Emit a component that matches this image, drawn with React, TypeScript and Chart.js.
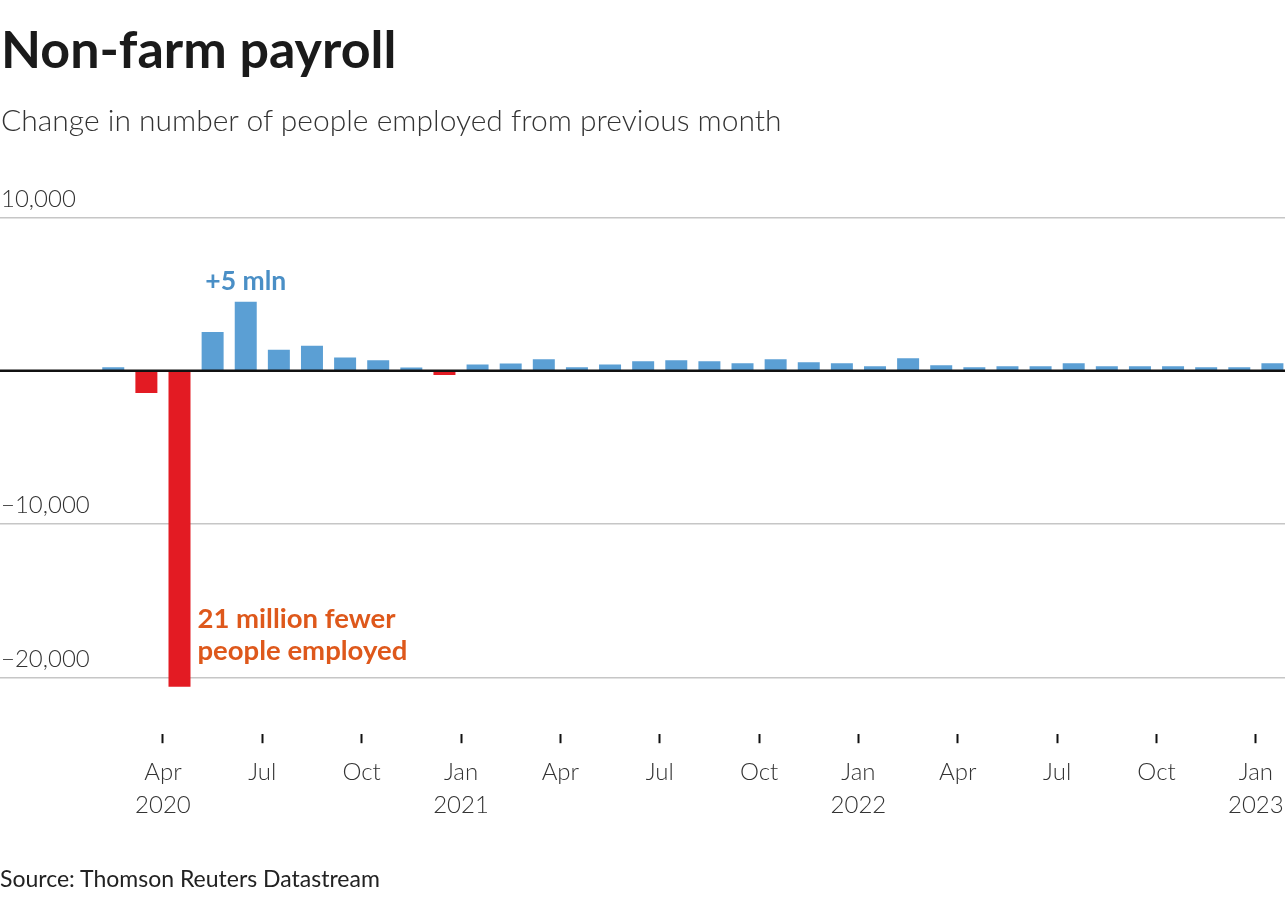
import React, { useEffect, useRef } from 'react';
import { Chart, registerables } from 'chart.js';

Chart.register(...registerables);

// ---- Data (thousands of jobs, change from previous month) ----
const months = [
  '2020-02', '2020-03', '2020-04', '2020-05', '2020-06', '2020-07', '2020-08', '2020-09',
  '2020-10', '2020-11', '2020-12', '2021-01', '2021-02', '2021-03', '2021-04', '2021-05',
  '2021-06', '2021-07', '2021-08', '2021-09', '2021-10', '2021-11', '2021-12', '2022-01',
  '2022-02', '2022-03', '2022-04', '2022-05', '2022-06', '2022-07', '2022-08', '2022-09',
  '2022-10', '2022-11', '2022-12', '2023-01',
];
const payrollChange = [
  220, -1450, -20600, 2520, 4500, 1370, 1630, 860,
  680, 210, -280, 400, 470, 750, 230, 400,
  620, 680, 620, 490, 750, 550, 490, 290,
  810, 360, 230, 290, 290, 490, 290, 290,
  290, 230, 230, 490,
];

const tickMonths = [
  '2020-04', '2020-07', '2020-10', '2021-01', '2021-04', '2021-07',
  '2021-10', '2022-01', '2022-04', '2022-07', '2022-10', '2023-01',
];
const tickLabels: (string | string[])[] = [
  ['Apr', '2020'], 'Jul', 'Oct', ['Jan', '2021'], 'Apr', 'Jul',
  'Oct', ['Jan', '2022'], 'Apr', 'Jul', 'Oct', ['Jan', '2023'],
];
const yTicks = [-20000, -10000, 0, 10000];
const yTickLabels = ['\u221220,000', '\u221210,000', '', '10,000'];

const peakMonth = '2020-06';
const peakLabel = '+5 mln';
const troughMonth = '2020-04';
const troughLines = ['21 million fewer', 'people employed'];

// ---- Styles ----
const BLUE = '#5b9fd4';
const RED = '#e31b23';
const ANNOT_BLUE = '#4a8fc6';
const ANNOT_ORANGE = '#de581b';
const FONT = 'Lato, "Noto Sans", sans-serif';

const monthIndex = (m: string) => {
  const [y, mo] = m.split('-').map(Number);
  return (y - 2020) * 12 + (mo - 1);
};

const annotate = {
  id: 'annotate',
  afterDatasetsDraw(chart: any) {
    const { ctx, chartArea, scales } = chart;
    const y0 = scales.y.getPixelForValue(0);
    ctx.save();
    ctx.strokeStyle = '#111';
    ctx.lineWidth = 2.5;
    ctx.beginPath();
    ctx.moveTo(chartArea.left, y0);
    ctx.lineTo(chartArea.right, y0);
    ctx.stroke();

    const meta = chart.getDatasetMeta(0);
    const peak = meta.data[months.indexOf(peakMonth)];
    ctx.font = `700 26.5px ${FONT}`;
    ctx.fillStyle = ANNOT_BLUE;
    ctx.textAlign = 'center';
    ctx.textBaseline = 'alphabetic';
    ctx.fillText(peakLabel, peak.x, peak.y - 12);

    const trough = meta.data[months.indexOf(troughMonth)];
    ctx.font = `700 27.5px ${FONT}`;
    ctx.fillStyle = ANNOT_ORANGE;
    ctx.textAlign = 'left';
    troughLines.forEach((t, i) => {
      ctx.fillText(t, trough.x + trough.width / 2 + 7, trough.y - 59 + i * 32);
    });
    ctx.restore();
  },
};

export default function App() {
  const canvasRef = useRef<HTMLCanvasElement | null>(null);

  useEffect(() => {
    if (!canvasRef.current) return;
    const chart = new Chart(canvasRef.current, {
      type: 'bar',
      data: {
        datasets: [
          {
            data: months.map((m, i) => ({ x: monthIndex(m) + 0.5, y: payrollChange[i] })),
            backgroundColor: (c: any) => (c.raw && c.raw.y < 0 ? RED : BLUE),
            borderWidth: 0,
            categoryPercentage: 1,
            barPercentage: 0.664,
          } as any,
        ],
      },
      options: {
        animation: false,
        responsive: false,
        devicePixelRatio: 1,
        layout: { padding: { top: 186.6, bottom: 85.8, left: 0, right: 3 } },
        plugins: { legend: { display: false }, tooltip: { enabled: false } },
        scales: {
          x: {
            type: 'linear',
            offset: false,
            min: -1.92,
            max: 36.88,
            afterBuildTicks: (s: any) => {
              s.ticks = tickMonths.map((m) => ({ value: monthIndex(m) }));
            },
            afterFit: (s: any) => {
              s.height = 80;
              s.paddingLeft = 0;
              s.paddingRight = 0;
            },
            ticks: {
              autoSkip: false,
              maxRotation: 0,
              padding: 12,
              color: '#333',
              font: { family: FONT, size: 24, weight: '300', lineHeight: 1.4 },
              callback: (_v: any, i: number) => tickLabels[i],
            },
            grid: {
              offset: false,
              drawOnChartArea: false,
              drawTicks: true,
              tickLength: 9,
              tickColor: '#111',
              tickWidth: 2,
            },
            border: { display: false },
          },
          y: {
            type: 'linear',
            min: -23700,
            max: 12000,
            afterBuildTicks: (s: any) => {
              s.ticks = yTicks.map((v) => ({ value: v }));
            },
            afterFit: (s: any) => {
              s.width = 0;
              s.paddingTop = 0;
              s.paddingBottom = 0;
            },
            ticks: {
              mirror: true,
              padding: 1,
              labelOffset: -18.5,
              color: '#333',
              font: { family: FONT, size: 24, weight: '300' },
              callback: (_v: any, i: number) => yTickLabels[i],
            },
            grid: {
              drawTicks: false,
              lineWidth: 1.5,
              color: (c: any) => (c.tick && c.tick.value === 0 ? 'rgba(0,0,0,0)' : '#c6c6c6'),
            },
            border: { display: false },
          },
        },
      } as any,
      plugins: [annotate],
    });
    return () => chart.destroy();
  }, []);

  return (
    <div
      style={{
        position: 'absolute',
        left: 0,
        top: 0,
        width: 1288,
        height: 900,
        background: '#fff',
        fontFamily: FONT,
      }}
    >
      <canvas
        ref={canvasRef}
        width={1288}
        height={900}
        style={{ position: 'absolute', left: 0, top: 0, width: 1288, height: 900, display: 'block' }}
      />
      <div
        style={{
          position: 'absolute',
          left: 1,
          top: 22,
          fontSize: 52,
          lineHeight: 1,
          fontWeight: 700,
          color: '#1a1a1a',
          whiteSpace: 'nowrap',
        }}
      >
        Non-farm payroll
      </div>
      <div
        style={{
          position: 'absolute',
          left: 1,
          top: 104,
          fontSize: 30,
          lineHeight: 1,
          fontWeight: 300,
          color: '#333',
          whiteSpace: 'nowrap',
        }}
      >
        Change in number of people employed from previous month
      </div>
      <div
        style={{
          position: 'absolute',
          left: 0,
          top: 867,
          fontSize: 23,
          lineHeight: 1,
          fontWeight: 400,
          color: '#222',
          whiteSpace: 'nowrap',
        }}
      >
        Source: Thomson Reuters Datastream
      </div>
    </div>
  );
}
